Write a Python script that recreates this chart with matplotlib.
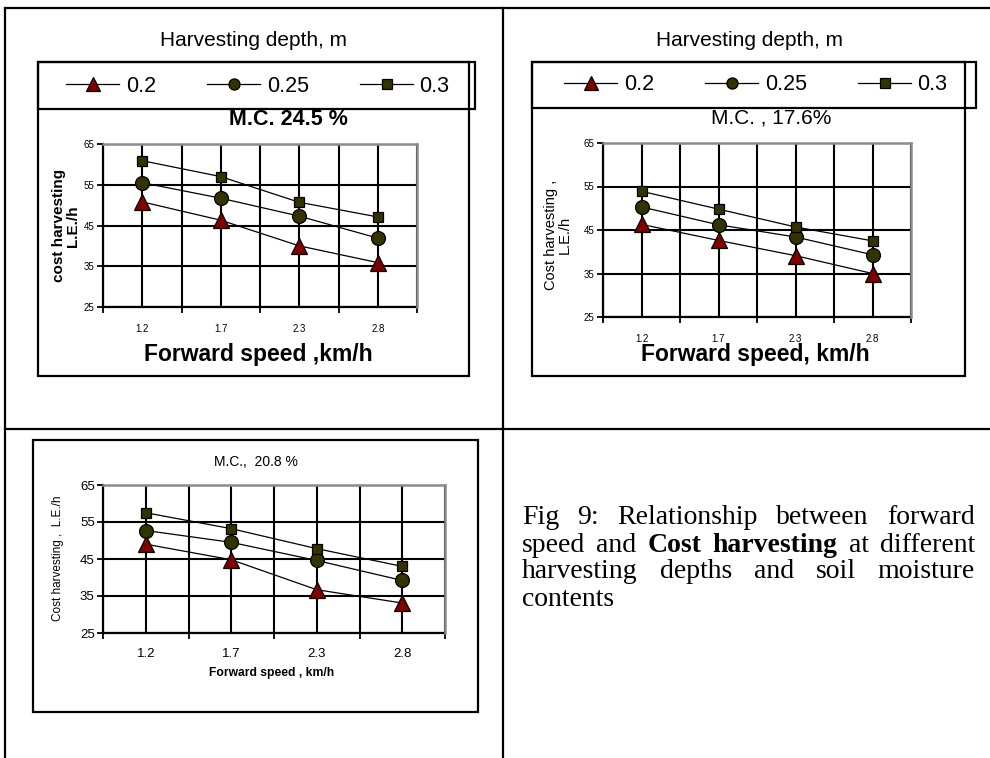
import numpy as np
import matplotlib
matplotlib.use("Agg")
import matplotlib.pyplot as plt
from matplotlib.lines import Line2D
from matplotlib.patches import Rectangle

plt.rcParams["font.family"] = ["Liberation Sans", "DejaVu Sans"]

# categories and series
speed_labels = ["1.2", "1.7", "2.3", "2.8"]
depth_labels = ["0.2", "0.25", "0.3"]

mc245_d020 = [50.8, 46.3, 40.0, 35.9]
mc245_d025 = [55.5, 51.7, 47.3, 41.9]
mc245_d030 = [60.9, 57.0, 50.7, 47.1]

mc176_d020 = [46.3, 42.6, 39.1, 35.0]
mc176_d025 = [50.3, 46.2, 43.4, 39.3]
mc176_d030 = [53.9, 49.8, 45.7, 42.5]

mc208_d020 = [49.0, 44.8, 36.7, 33.1]
mc208_d025 = [52.7, 49.5, 44.6, 39.2]
mc208_d030 = [57.5, 53.2, 47.8, 43.0]

y_ticks = [25, 35, 45, 55, 65]

W, H = 990, 758
fig = plt.figure(figsize=(W / 100, H / 100), dpi=100)


def fx(px):
    return px / W


def fy(py):
    return 1 - py / H


def ax_at(x0, y0, x1, y1):
    return fig.add_axes([fx(x0), fy(y1), fx(x1) - fx(x0), fy(y0) - fy(y1)])


def box(x0, y0, x1, y1, lw=1.6):
    fig.add_artist(Rectangle((fx(x0), fy(y1)), fx(x1) - fx(x0), fy(y0) - fy(y1),
                             transform=fig.transFigure, fill=False,
                             edgecolor="black", lw=lw))


def hline(y, x0, x1):
    fig.add_artist(Line2D([fx(x0), fx(x1)], [fy(y), fy(y)], transform=fig.transFigure,
                          color="black", lw=1.6))


def vline(x, y0, y1):
    fig.add_artist(Line2D([fx(x), fx(x)], [fy(y0), fy(y1)], transform=fig.transFigure,
                          color="black", lw=1.6))


# marker styles: (marker, face colour, size in plot, size in legend)
styles = [
    ("^", "#800000", 11, 9.5),
    ("o", "#333300", 10, 8),
    ("s", "#333300", 7.5, 7.5),
]


def draw_panel(ax, series, tick_fs, tick_pad):
    x = np.arange(len(speed_labels))
    for vals, (mk, fc, ms, _) in zip(series, styles):
        ax.plot(x, vals, color="black", lw=0.9, marker=mk, mfc=fc, mec="black",
                mew=0.9, ms=ms, zorder=3, clip_on=False)
    ax.set_xlim(-0.5, len(speed_labels) - 0.5)
    ax.set_ylim(25, 65)
    ax.set_yticks(y_ticks)
    ax.set_xticks(np.arange(-0.5, len(speed_labels), 1.0))
    ax.set_xticks(x, minor=True)
    ax.set_xticklabels([])
    ax.set_xticklabels(speed_labels, minor=True)
    ax.tick_params(axis="x", which="major", direction="out", length=4, width=1.3)
    ax.tick_params(axis="x", which="minor", length=0, labelsize=tick_fs, pad=tick_pad)
    ax.tick_params(axis="y", direction="out", length=4, width=1.3, labelsize=tick_fs, pad=2)
    ax.set_axisbelow(True)
    ax.grid(True, which="both", axis="x", color="black", lw=1.5)
    ax.grid(True, which="major", axis="y", color="black", lw=1.5)
    for s in ("left", "bottom"):
        ax.spines[s].set_color("black")
        ax.spines[s].set_linewidth(1.6)
    for s in ("top", "right"):
        ax.spines[s].set_color("#8c8c8c")
        ax.spines[s].set_linewidth(1.8)
        ax.spines[s].set_zorder(2.6)


def legend_row(ax, cx, cy):
    handles = [Line2D([], [], color="black", lw=0.9, marker=mk, mfc=fc, mec="black",
                      mew=0.9, ms=lms) for mk, fc, _, lms in styles]
    ax.legend(handles, depth_labels, loc="center", ncol=3, frameon=False,
              bbox_to_anchor=(fx(cx), fy(cy)), bbox_transform=fig.transFigure,
              fontsize=15.5, handlelength=2.45, handletextpad=0.3,
              columnspacing=2.4)


# ---- table lines ----
hline(8, 5, 990)
vline(5, 8, 758)
vline(503, 8, 758)
hline(429, 5, 990)

# ---- panel 1: M.C. 24.5 % ----
box(38, 62, 469, 376)
box(38, 62, 475, 109)
fig.text(fx(254), fy(40), "Harvesting depth, m", fontsize=15, ha="center", va="center")
ax1 = ax_at(103, 144, 417, 307)
draw_panel(ax1, [mc245_d020, mc245_d025, mc245_d030], 7, 12)
legend_row(ax1, 258, 86)
ax1.text(0.592, 1.153, "M.C. 24.5 %", transform=ax1.transAxes, ha="center",
         va="center", fontsize=15.5, fontweight="bold")
ax1.set_xlabel("Forward speed ,km/h", fontsize=16.5, fontweight="bold", va="center")
ax1.xaxis.set_label_coords(0.494, -0.294)
ax1.set_ylabel("cost harvesting\nL.E./h", fontsize=11, fontweight="bold",
               va="center", ha="center", linespacing=1.0)
ax1.yaxis.set_label_coords(-0.119, 0.497)

# ---- panel 2: M.C. 17.6 % ----
box(532, 62, 965, 376)
box(532, 62, 976, 108)
fig.text(fx(749), fy(40), "Harvesting depth, m", fontsize=15, ha="center", va="center")
ax2 = ax_at(603, 143, 911, 317)
draw_panel(ax2, [mc176_d020, mc176_d025, mc176_d030], 7, 12)
legend_row(ax2, 756, 85)
ax2.text(0.545, 1.144, "M.C. , 17.6%", transform=ax2.transAxes, ha="center",
         va="center", fontsize=15)
ax2.set_xlabel("Forward speed, km/h", fontsize=16.5, fontweight="bold", va="center")
ax2.xaxis.set_label_coords(0.494, -0.218)
ax2.set_ylabel("Cost harvesting ,\nL.E./h", fontsize=10.5, va="center", ha="center",
               linespacing=1.0)
ax2.yaxis.set_label_coords(-0.146, 0.47)

# ---- panel 3: M.C. 20.8 % ----
box(33, 440, 478, 712)
ax3 = ax_at(103, 485, 445, 633)
draw_panel(ax3, [mc208_d020, mc208_d025, mc208_d030], 9.5, 11)
ax3.text(0.447, 1.155, "M.C.,  20.8 %", transform=ax3.transAxes, ha="center",
         va="center", fontsize=10)
ax3.set_xlabel("Forward speed , km/h", fontsize=8.7, fontweight="bold", va="center")
ax3.xaxis.set_label_coords(0.494, -0.27)
ax3.set_ylabel("Cost harvesting ,  L.E./h", fontsize=8.5, va="center", ha="center")
ax3.yaxis.set_label_coords(-0.132, 0.507)

# ---- caption, justified ----
caption_lines = [
    [("Fig", "normal"), ("9:", "normal"), ("Relationship", "normal"),
     ("between", "normal"), ("forward", "normal")],
    [("speed", "normal"), ("and", "normal"), ("Cost", "bold"),
     ("harvesting", "bold"), ("at", "normal"), ("different", "normal")],
    [("harvesting", "normal"), ("depths", "normal"), ("and", "normal"),
     ("soil", "normal"), ("moisture", "normal")],
    [("contents", "normal")],
]
cap_x0, cap_x1 = 522, 975
cap_y = [517, 545, 572, 600]
cap_fs = 20
renderer = fig.canvas.get_renderer()
for i, (words, yy) in enumerate(zip(caption_lines, cap_y)):
    objs = [fig.text(0, fy(yy), w, fontsize=cap_fs, fontweight=wt, va="center",
                     ha="left", family=["Liberation Serif", "DejaVu Serif"])
            for w, wt in words]
    widths = [o.get_window_extent(renderer).width for o in objs]
    if i < len(caption_lines) - 1 and len(objs) > 1:
        gap = (cap_x1 - cap_x0 - sum(widths)) / (len(objs) - 1)
    else:
        gap = cap_fs * 0.35
    xpos = cap_x0
    for o, wd in zip(objs, widths):
        o.set_x(fx(xpos))
        xpos += wd + gap

fig.savefig("out.png", dpi=100)
